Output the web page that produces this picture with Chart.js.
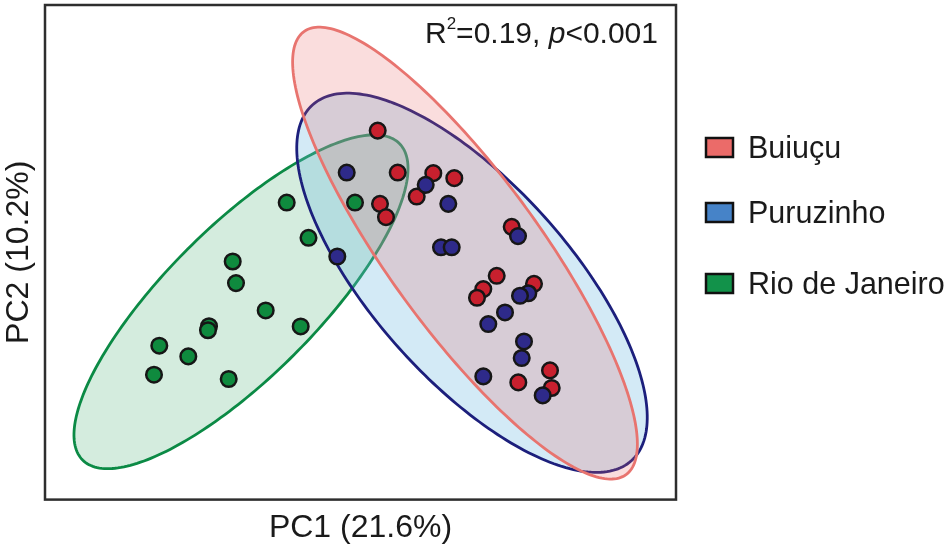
<!DOCTYPE html>
<html>
<head>
<meta charset="utf-8">
<script src="https://cdn.jsdelivr.net/npm/chart.js@4.4.0/dist/chart.umd.min.js"></script>
<style>
  html, body { margin: 0; padding: 0; background: #fff; }
  #wrap { width: 950px; height: 557px; }
</style>
</head>
<body>
<div id="wrap"><canvas id="pca"></canvas></div>
<script>
// groups, in legend order
const groups = ['Buiuçu', 'Puruzinho', 'Rio de Janeiro'];

// PCA scores (arbitrary units)
const buiucuPC1 = [0.172, 0.372, 0.728, 0.938, 0.562, 0.195, 0.255, 1.512, 1.362, 1.228, 1.165, 1.735, 1.895, 1.578, 1.912];
const buiucuPC2 = [1.218, 0.798, 0.792, 0.742, 0.558, 0.485, 0.352, 0.255, -0.235, -0.368, -0.455, -0.315, -1.182, -1.302, -1.358];

const puruzinhoPC1 = [-0.138, 0.652, 0.878, -0.232, 0.805, 0.912, 1.575, 1.678, 1.595, 1.445, 1.278, 1.635, 1.612, 1.228, 1.822];
const puruzinhoPC2 = [0.798, 0.675, 0.485, -0.042, 0.05, 0.05, 0.162, -0.41, -0.435, -0.602, -0.718, -0.892, -1.058, -1.242, -1.432];

const rioPC1 = [-0.738, -0.055, -0.52, -1.278, -1.245, -0.948, -0.598, -1.515, -1.525, -2.012, -1.722, -2.065, -1.318];
const rioPC2 = [0.498, 0.498, 0.145, -0.092, -0.308, -0.582, -0.742, -0.74, -0.78, -0.935, -1.042, -1.225, -1.268];

// group ellipses: centre, semi axes, rotation (degrees)
const ellipseCenterPC1 = [1.045, 1.115, -1.195];
const ellipseCenterPC2 = [-0.008, -0.305, -0.495];
const ellipseSemiMajor = [2.74, 2.39, 2.24];
const ellipseSemiMinor = [0.76, 0.98, 0.75];
const ellipseAngle = [-54, -48.2, 45];

const axisTitles = ['PC1 (21.6%)', 'PC2 (10.2%)'];

const FONT = '"Liberation Sans", Arial, sans-serif';
const pointColors = ['#c8202e', '#2e2a8a', '#0f8a3e'];
const ellipseFill = ['rgba(232, 100, 100, 0.22)', 'rgba(110, 185, 225, 0.30)', 'rgba(40, 160, 90, 0.20)'];
const ellipseLine = ['#e8746f', '#1c1f7c', '#0b8a45'];
const legendColors = ['#eb6b69', '#4683c8', '#12924a'];

function toPoints(xs, ys) {
  return xs.map((v, i) => ({x: v, y: ys[i]}));
}

const ellipsePlugin = {
  id: 'ellipses',
  beforeDatasetsDraw(chart) {
    const {ctx, chartArea, scales: {x, y}} = chart;
    ctx.save();
    ctx.beginPath();
    ctx.rect(chartArea.left, chartArea.top, chartArea.width, chartArea.height);
    ctx.clip();
    [2, 1, 0].forEach((i) => {
      const th = ellipseAngle[i] * Math.PI / 180;
      ctx.beginPath();
      for (let k = 0; k <= 240; k++) {
        const t = k / 240 * 2 * Math.PI;
        const u = ellipseSemiMajor[i] * Math.cos(t);
        const v = ellipseSemiMinor[i] * Math.sin(t);
        const px = x.getPixelForValue(ellipseCenterPC1[i] + u * Math.cos(th) - v * Math.sin(th));
        const py = y.getPixelForValue(ellipseCenterPC2[i] + u * Math.sin(th) + v * Math.cos(th));
        if (k === 0) ctx.moveTo(px, py); else ctx.lineTo(px, py);
      }
      ctx.closePath();
      ctx.fillStyle = ellipseFill[i];
      ctx.fill();
      ctx.strokeStyle = ellipseLine[i];
      ctx.lineWidth = 2.8;
      ctx.stroke();
    });
    ctx.restore();

    // plot frame
    ctx.save();
    ctx.strokeStyle = '#2e2e2e';
    ctx.lineWidth = 2.5;
    ctx.strokeRect(chartArea.left, chartArea.top, chartArea.width, chartArea.height);
    ctx.restore();
  }
};

const extrasPlugin = {
  id: 'extras',
  afterDraw(chart) {
    const ctx = chart.ctx;
    ctx.save();
    ctx.fillStyle = '#1a1a1a';
    ctx.textAlign = 'left';
    ctx.textBaseline = 'alphabetic';

    // statistics label
    let xx = 425;
    const base = 43;
    ctx.font = `30px ${FONT}`;
    ctx.fillText('R', xx, base);
    xx += ctx.measureText('R').width;
    ctx.font = `17px ${FONT}`;
    ctx.fillText('2', xx, base - 14);
    xx += ctx.measureText('2').width;
    ctx.font = `30px ${FONT}`;
    ctx.fillText('=0.19, ', xx, base);
    xx += ctx.measureText('=0.19, ').width;
    ctx.font = `italic 30px ${FONT}`;
    ctx.fillText('p', xx, base);
    xx += ctx.measureText('p').width;
    ctx.font = `30px ${FONT}`;
    ctx.fillText('<0.001', xx, base);

    // legend
    const boxMid = [147.5, 212.5, 283.5];
    groups.forEach((g, i) => {
      ctx.fillStyle = legendColors[i];
      ctx.fillRect(706, boxMid[i] - 9.5, 27, 19);
      ctx.strokeStyle = '#111';
      ctx.lineWidth = 2.5;
      ctx.strokeRect(706, boxMid[i] - 9.5, 27, 19);
      ctx.fillStyle = '#1a1a1a';
      ctx.font = `30.5px ${FONT}`;
      ctx.fillText(g, 748, boxMid[i] + 10);
    });
    ctx.restore();
  }
};

const datasets = [
  {label: groups[0], data: toPoints(buiucuPC1, buiucuPC2), backgroundColor: pointColors[0], order: 1},
  {label: groups[1], data: toPoints(puruzinhoPC1, puruzinhoPC2), backgroundColor: pointColors[1], order: 0},
  {label: groups[2], data: toPoints(rioPC1, rioPC2), backgroundColor: pointColors[2], order: 2}
];
datasets.forEach((d) => {
  d.pointRadius = 7.8;
  d.pointHoverRadius = 7.8;
  d.borderColor = '#161616';
  d.borderWidth = 2.5;
});

new Chart(document.getElementById('pca').getContext('2d'), {
  type: 'scatter',
  data: {datasets: datasets},
  options: {
    responsive: true,
    maintainAspectRatio: false,
    animation: false,
    layout: {autoPadding: false, padding: {left: 0, right: 274, top: 5, bottom: 10}},
    scales: {
      x: {
        min: -3.155,
        max: 3.155,
        grid: {display: false, drawTicks: false},
        border: {display: false},
        ticks: {display: false},
        title: {display: true, text: axisTitles[0], color: '#1a1a1a', font: {family: FONT, size: 32}, padding: {top: 9, bottom: 0}}
      },
      y: {
        min: -2.475,
        max: 2.475,
        grid: {display: false, drawTicks: false},
        border: {display: false},
        ticks: {display: false},
        title: {display: true, text: axisTitles[1], color: '#1a1a1a', font: {family: FONT, size: 32}, padding: {top: 0, bottom: 6.6}}
      }
    },
    plugins: {
      legend: {display: false},
      tooltip: {enabled: false}
    }
  },
  plugins: [ellipsePlugin, extrasPlugin]
});
</script>
</body>
</html>
